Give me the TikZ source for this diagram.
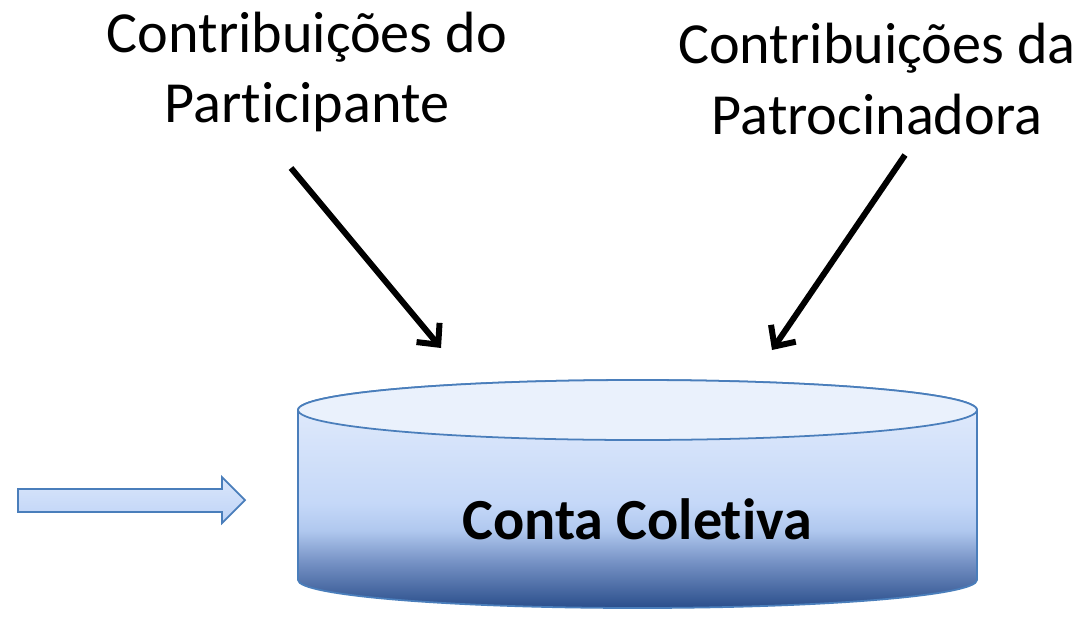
\documentclass[tikz,border=0pt]{standalone}
\usepackage{fontspec}
\setmainfont{Carlito}[Ligatures={NoCommon}]
\usepackage{xcolor}
\usetikzlibrary{arrows.meta}

\definecolor{bordure}{HTML}{4A7EBB}
\definecolor{haut}{HTML}{E6EEFC}
\definecolor{milieu}{HTML}{C5D8F8}
\definecolor{clair}{HTML}{B0C8EF}
\definecolor{moyen}{HTML}{7591C4}
\definecolor{bas}{HTML}{2A4E8B}
\definecolor{couvercle}{HTML}{EAF1FC}
\definecolor{fhaut}{HTML}{DAE6FB}
\definecolor{fbas}{HTML}{BED3F6}

% degrades (du bas vers le haut)
\pgfdeclareverticalshading{cuve}{100bp}{color(0bp)=(bas); color(25bp)=(bas); color(35bp)=(moyen); color(42bp)=(clair); color(48bp)=(milieu); color(75bp)=(haut); color(100bp)=(haut)}
\pgfdeclareverticalshading{degradefleche}{100bp}{color(0bp)=(fbas); color(25bp)=(fbas); color(75bp)=(fhaut); color(100bp)=(fhaut)}

\tikzset{
  titre/.style={align=center, inner sep=0pt, font=\fontsize{33}{40}\selectfont},
  fleche/.style={line width=3.4pt, -{Straight Barb[length=9pt,width=17pt]}},
}

\begin{document}
\begin{tikzpicture}[x=0.567pt,y=-0.567pt]
    \useasboundingbox (0,0) rectangle (1085,618);
    %\draw[help lines,step=100] (0,0) grid (1085,618);

    % les deux sources
    \node[titre] (part) at (307,72) {Contribuições do\\Participante};
    \node[titre] (patr) at (877,79) {Contribuições da\\Patrocinadora};

    \coordinate (p1) at (291,168);
    \coordinate (p2) at (441,348);
    \coordinate (q1) at (905,155);
    \coordinate (q2) at (772,350);
    \draw[fleche] (p1) -- (p2);
    \draw[fleche] (q1) -- (q2);

    % le cylindre
    \shade[shading=cuve, draw=bordure, line width=1pt]
        (298,410) -- (298,580) arc[start angle=180, end angle=0, x radius=339.5, y radius=28]
        -- (977,410) arc[start angle=0, end angle=-180, x radius=339.5, y radius=30] -- cycle;
    \draw[bordure, fill=couvercle, line width=1pt] (637.5,410) ellipse[x radius=339.5, y radius=30];
    \node[font=\fontsize{33}{40}\selectfont\bfseries, inner sep=0pt] (conta) at (637,519) {Conta Coletiva};

    % fleche d'entree
    \shade[shading=degradefleche, draw=bordure, line width=1pt]
        (18,489) -- (222,489) -- (222,477) -- (245,500) -- (222,523) -- (222,512) -- (18,512) -- cycle;
\end{tikzpicture}
\end{document}
